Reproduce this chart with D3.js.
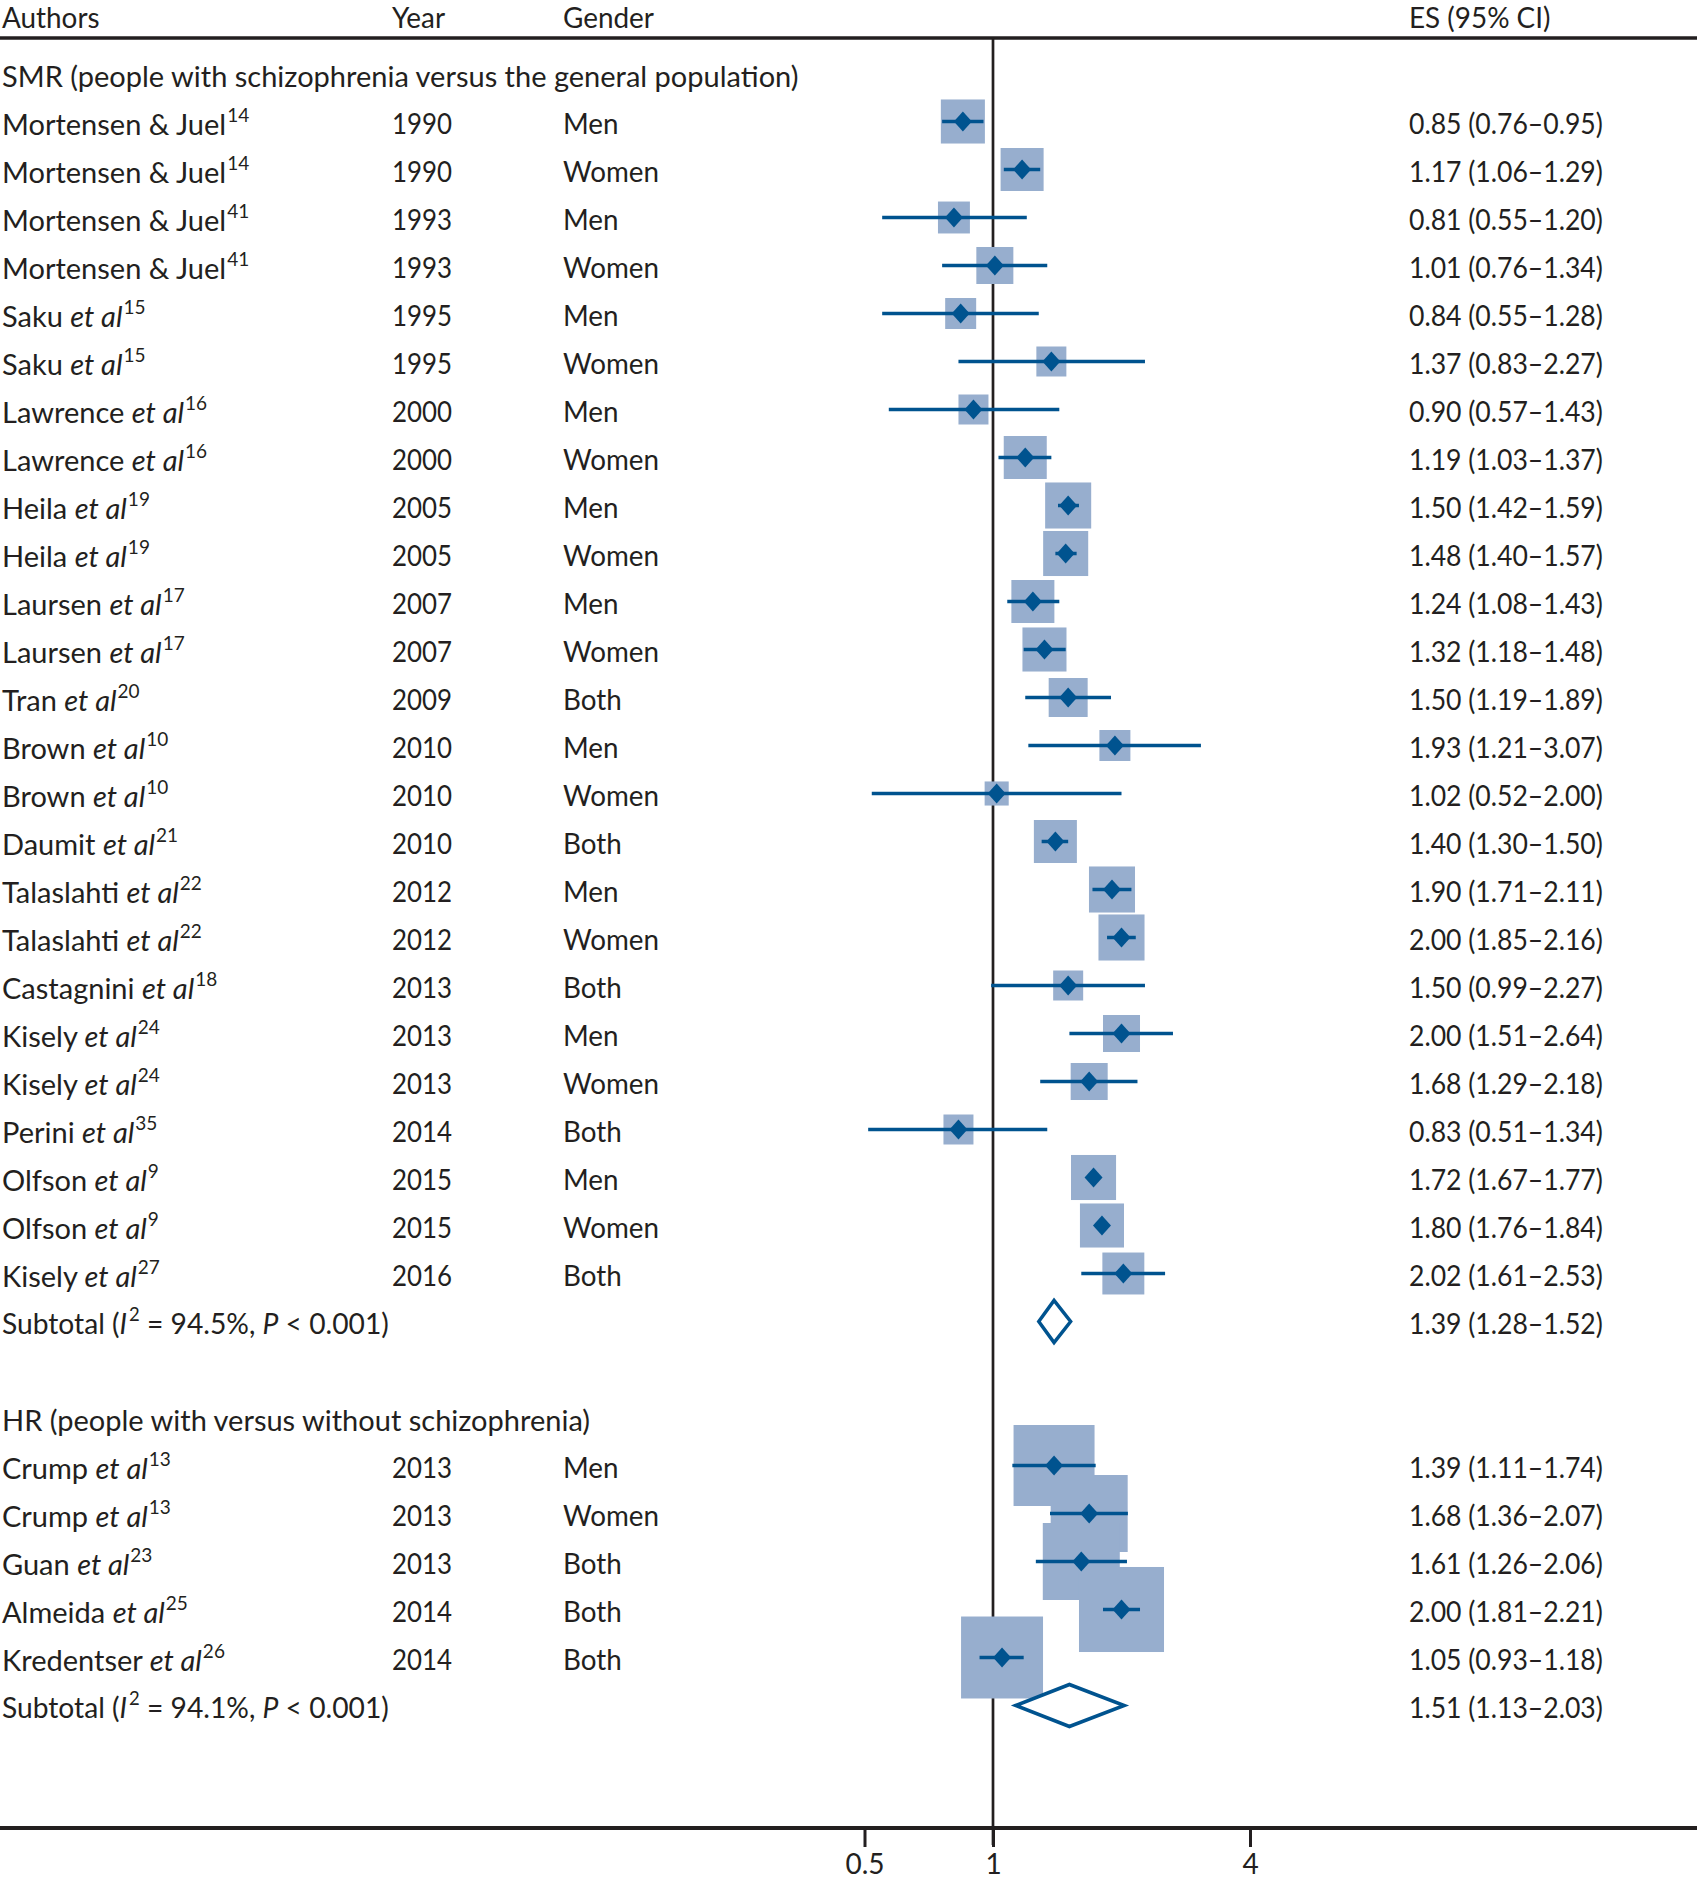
<!DOCTYPE html>
<html>
<head>
<meta charset="utf-8">
<script src="https://cdn.jsdelivr.net/npm/d3@7"></script>
<style>
  body { margin: 0; background: #fff; }
  svg text { font-family: "Liberation Sans Narrow", "Arial Narrow", Lato, sans-serif; fill: #231f20; }
</style>
</head>
<body>
<svg id="chart"></svg>
<script>
// ---- data ----
const headers = ['Authors', 'Year', 'Gender', 'ES (95% CI)']
const groupLabels = ['SMR (people with schizophrenia versus the general population)', 'HR (people with versus without schizophrenia)']

const smrAuthors = ['Mortensen & Juel', 'Mortensen & Juel', 'Mortensen & Juel', 'Mortensen & Juel', 'Saku et al', 'Saku et al',
    'Lawrence et al', 'Lawrence et al', 'Heila et al', 'Heila et al', 'Laursen et al', 'Laursen et al', 'Tran et al',
    'Brown et al', 'Brown et al', 'Daumit et al', 'Talaslahti et al', 'Talaslahti et al', 'Castagnini et al',
    'Kisely et al', 'Kisely et al', 'Perini et al', 'Olfson et al', 'Olfson et al', 'Kisely et al']
const smrRefs = ['14', '14', '41', '41', '15', '15', '16', '16', '19', '19', '17', '17', '20', '10', '10', '21', '22', '22', '18', '24', '24', '35', '9', '9', '27']
const smrYears = [1990, 1990, 1993, 1993, 1995, 1995, 2000, 2000, 2005, 2005, 2007, 2007, 2009, 2010, 2010, 2010, 2012, 2012, 2013, 2013, 2013, 2014, 2015, 2015, 2016]
const smrGender = ['Men', 'Women', 'Men', 'Women', 'Men', 'Women', 'Men', 'Women', 'Men', 'Women', 'Men', 'Women', 'Both',
    'Men', 'Women', 'Both', 'Men', 'Women', 'Both', 'Men', 'Women', 'Both', 'Men', 'Women', 'Both']
const smrES = [0.85, 1.17, 0.81, 1.01, 0.84, 1.37, 0.90, 1.19, 1.50, 1.48, 1.24, 1.32, 1.50, 1.93, 1.02, 1.40, 1.90, 2.00, 1.50, 2.00, 1.68, 0.83, 1.72, 1.80, 2.02]
const smrLo = [0.76, 1.06, 0.55, 0.76, 0.55, 0.83, 0.57, 1.03, 1.42, 1.40, 1.08, 1.18, 1.19, 1.21, 0.52, 1.30, 1.71, 1.85, 0.99, 1.51, 1.29, 0.51, 1.67, 1.76, 1.61]
const smrHi = [0.95, 1.29, 1.20, 1.34, 1.28, 2.27, 1.43, 1.37, 1.59, 1.57, 1.43, 1.48, 1.89, 3.07, 2.00, 1.50, 2.11, 2.16, 2.27, 2.64, 2.18, 1.34, 1.77, 1.84, 2.53]
// relative weights (box area)
const smrWeight = [19.4, 18.5, 10.2, 13.7, 9.6, 9.0, 9.0, 18.5, 21.2, 20.3, 18.5, 19.4, 15.2, 9.6, 5.8, 18.5, 21.2, 21.2, 9.0, 13.7, 13.7, 9.0, 20.3, 19.4, 17.6]

const hrAuthors = ['Crump et al', 'Crump et al', 'Guan et al', 'Almeida et al', 'Kredentser et al']
const hrRefs = ['13', '13', '23', '25', '26']
const hrYears = [2013, 2013, 2013, 2014, 2014]
const hrGender = ['Men', 'Women', 'Both', 'Both', 'Both']
const hrES = [1.39, 1.68, 1.61, 2.00, 1.05]
const hrLo = [1.11, 1.36, 1.26, 1.81, 0.93]
const hrHi = [1.74, 2.07, 2.06, 2.21, 1.18]
const hrWeight = [65.6, 59.3, 59.3, 72.3, 67.2]

const subES = [1.39, 1.51]
const subLo = [1.28, 1.13]
const subHi = [1.52, 2.03]
const subI2 = ['94.5%', '94.1%']
const subP = ['0.001', '0.001']

const axisTicks = [0.5, 1, 4]

// ---- layout ----
const width = 1697, height = 1879
const ink = '#231f20', blue = '#00538f', boxFill = '#97aece'
const fontSize = 29, supSize = 19
const col = { author: 2, year: 392, gender: 563, es: 1409 }
const ruleY = 38, axisY = 1828

const svg = d3.select('#chart').attr('width', width).attr('height', height)

function studyRows(authors, refs, years, genders, es, lo, hi, w) {
    return authors.map((a, i) => ({ type: 'study', author: a, ref: refs[i], year: years[i], gender: genders[i], es: es[i], lo: lo[i], hi: hi[i], w: w[i] }))
}

let rows = []
rows.push({ type: 'group', label: groupLabels[0] })
rows = rows.concat(studyRows(smrAuthors, smrRefs, smrYears, smrGender, smrES, smrLo, smrHi, smrWeight))
rows.push({ type: 'subtotal', es: subES[0], lo: subLo[0], hi: subHi[0], i2: subI2[0], p: subP[0] })
rows.push({ type: 'blank' })
rows.push({ type: 'group', label: groupLabels[1] })
rows = rows.concat(studyRows(hrAuthors, hrRefs, hrYears, hrGender, hrES, hrLo, hrHi, hrWeight))
rows.push({ type: 'subtotal', es: subES[1], lo: subLo[1], hi: subHi[1], i2: subI2[1], p: subP[1] })
rows.forEach((r, i) => r.idx = i)

const yscale = d3.scaleLinear().domain([0, rows.length - 1]).range([73.5, 1705.5])
const xscale = d3.scaleLog().base(2).domain([0.5, 4]).range([864.5, 1250])
const side = d3.scaleSqrt().domain([0, 100]).range([0, 100])

const studies = rows.filter(r => r.type === 'study')
const subtotals = rows.filter(r => r.type === 'subtotal')
const fmt = d3.format('.2f')
const esLabel = r => `${fmt(r.es)} (${fmt(r.lo)}–${fmt(r.hi)})`

// ---- frame lines ----
svg.append('line')
    .attr('x1', 0).attr('x2', width).attr('y1', ruleY).attr('y2', ruleY)
    .style('stroke', ink).style('stroke-width', 3.5)

svg.append('line')
    .attr('x1', 0).attr('x2', width).attr('y1', axisY).attr('y2', axisY)
    .style('stroke', ink).style('stroke-width', 4)

let xAxis = d3.axisBottom(xscale).tickValues(axisTicks).tickFormat(d => d).tickSize(19).tickPadding(7)
let axisG = svg.append('g').attr('class', 'xAxis').attr('transform', `translate(0,${axisY})`).call(xAxis)
axisG.select('.domain').remove()
axisG.selectAll('.tick line').style('stroke', ink).style('stroke-width', 3)
axisG.selectAll('.tick text').style('font-size', '28px').style('font-family', null).attr('fill', ink)

// null line at 1
svg.append('line')
    .attr('x1', xscale(1)).attr('x2', xscale(1))
    .attr('y1', ruleY).attr('y2', axisY + 17)
    .style('stroke', ink).style('stroke-width', 2.7)

// ---- marks ----
svg.append('g').selectAll('rect')
    .data(studies)
    .join('rect')
    .attr('x', d => xscale(d.es) - side(d.w) / 2)
    .attr('y', d => yscale(d.idx) - side(d.w) / 2)
    .attr('width', d => side(d.w))
    .attr('height', d => side(d.w))
    .style('fill', boxFill)

svg.append('g').selectAll('line')
    .data(studies)
    .join('line')
    .attr('x1', d => xscale(d.lo)).attr('x2', d => xscale(d.hi))
    .attr('y1', d => yscale(d.idx)).attr('y2', d => yscale(d.idx))
    .style('stroke', blue).style('stroke-width', 3.5)

const mw = 9, mh = 10
svg.append('g').selectAll('path')
    .data(studies)
    .join('path')
    .attr('d', d => {
        let cx = xscale(d.es), cy = yscale(d.idx)
        return `M${cx - mw},${cy}L${cx},${cy - mh}L${cx + mw},${cy}L${cx},${cy + mh}Z`
    })
    .style('fill', blue)

const dh = 21
svg.append('g').selectAll('path')
    .data(subtotals)
    .join('path')
    .attr('d', d => {
        let cy = yscale(d.idx)
        return `M${xscale(d.lo)},${cy}L${xscale(d.es)},${cy - dh}L${xscale(d.hi)},${cy}L${xscale(d.es)},${cy + dh}Z`
    })
    .style('fill', '#fff').style('stroke', blue).style('stroke-width', 3.5)

// ---- text ----
const txt = svg.append('g').style('font-size', `${fontSize}px`)
const base = d => yscale(d.idx) + 13

const headX = [col.author, col.year, col.gender, col.es]
txt.selectAll('.head')
    .data(headers)
    .join('text')
    .attr('class', 'head')
    .attr('x', (d, i) => headX[i])
    .attr('y', 28)
    .text(d => d)

txt.selectAll('.group')
    .data(rows.filter(r => r.type === 'group'))
    .join('text')
    .attr('class', 'group')
    .attr('x', col.author)
    .attr('y', base)
    .text(d => d.label)

txt.selectAll('.author')
    .data(studies)
    .join('text')
    .attr('class', 'author')
    .attr('x', col.author)
    .attr('y', base)
    .each(function(d) {
        let t = d3.select(this)
        if (d.author.endsWith(' et al')) {
            t.append('tspan').text(d.author.replace(/ et al$/, ' '))
            t.append('tspan').style('font-style', 'italic').text('et al')
        } else {
            t.append('tspan').text(d.author)
        }
        t.append('tspan').attr('dx', 1).attr('dy', -13).style('font-size', `${supSize}px`).text(d.ref)
    })

txt.selectAll('.year')
    .data(studies)
    .join('text')
    .attr('class', 'year')
    .attr('x', col.year)
    .attr('y', base)
    .text(d => d.year)

txt.selectAll('.gender')
    .data(studies)
    .join('text')
    .attr('class', 'gender')
    .attr('x', col.gender)
    .attr('y', base)
    .text(d => d.gender)

txt.selectAll('.es')
    .data(studies.concat(subtotals))
    .join('text')
    .attr('class', 'es')
    .attr('x', col.es)
    .attr('y', base)
    .text(esLabel)

txt.selectAll('.subtotal')
    .data(subtotals)
    .join('text')
    .attr('class', 'subtotal')
    .attr('x', col.author)
    .attr('y', base)
    .each(function(d) {
        let t = d3.select(this)
        t.append('tspan').text('Subtotal (')
        t.append('tspan').style('font-style', 'italic').text('I')
        t.append('tspan').attr('dx', 2).attr('dy', -13).style('font-size', `${supSize}px`).text('2')
        t.append('tspan').attr('dy', 13).text(` = ${d.i2}, `)
        t.append('tspan').style('font-style', 'italic').text('P')
        t.append('tspan').text(` < ${d.p})`)
    })

// the original face is narrower than what is installed: squeeze each column
// so one known string in it gets the width it has in the figure
function fit(sel, probeIndex, target) {
    let w = sel.nodes()[probeIndex].getComputedTextLength()
    let sx = target / w
    if (Math.abs(sx - 1) < 0.02) return
    sel.attr('transform', function() {
        let x0 = +this.getAttribute('x')
        return `translate(${x0},0) scale(${sx},1) translate(${-x0},0)`
    })
}
fit(txt.selectAll('.head'), 2, 91)
fit(txt.selectAll('.group'), 0, 807)
fit(txt.selectAll('.author'), 0, 246)
fit(txt.selectAll('.year'), 0, 60)
fit(txt.selectAll('.gender'), 1, 96)
fit(txt.selectAll('.es'), 0, 194)
fit(txt.selectAll('.subtotal'), 0, 385)
</script>
</body>
</html>
